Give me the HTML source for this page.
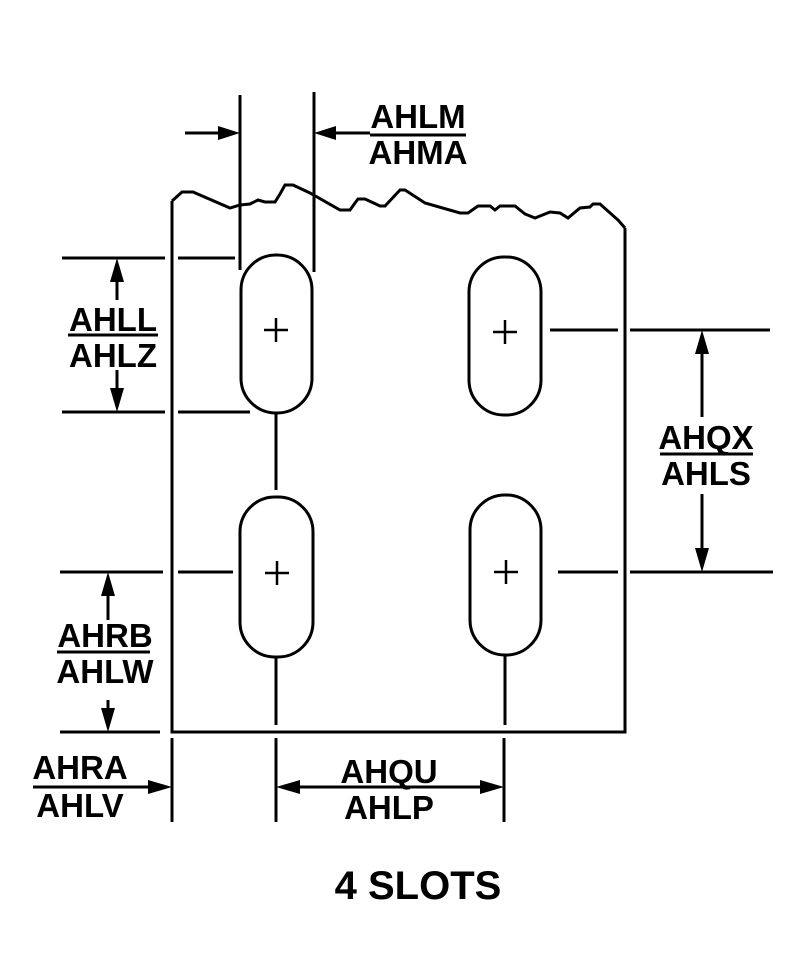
<!DOCTYPE html>
<html><head><meta charset="utf-8"><style>html,body{margin:0;padding:0;background:#fff}svg{display:block}</style></head>
<body>
<svg width="812" height="968" viewBox="0 0 812 968" xmlns="http://www.w3.org/2000/svg">
<g fill="none" stroke="#000" stroke-width="3">
<polyline points="172,201 182,192 193,192 230,208 240,205 250,204 258,200 265,202 275,202 280,194 285,185 293,185 310,193 340,210 350,210 355,203 358,199 365,199 380,206 385,206 400,190 405,190 425,203 460,213 468,213 478,206 490,206 495,210 500,206 515,206 525,214 535,218 550,212 560,213 568,218 580,208 590,207 593,204 600,204 618,220 625,228"/>
<polyline points="172,201 172,732 625,732 625,228"/>
<rect x="241" y="255" width="71" height="158" rx="35" ry="35"/>
<rect x="469" y="257" width="72" height="158" rx="35" ry="35"/>
<rect x="240" y="497" width="73" height="160" rx="35" ry="35"/>
<rect x="470" y="495" width="71" height="160" rx="35" ry="35"/>
</g>
<g stroke="#000" stroke-width="2.5">
<path d="M264,330H288M276,318V342M493,332H517M505,320V344M265,573H289M277,561V585M494,572H518M506,560V584"/>
</g>
<g stroke="#000" stroke-width="3" fill="none">
<path d="M240,95V270M314,92V272"/>
<path d="M185,133H222M370,133H332"/>
<path d="M62,258H165M178,258H235M62,412H165M178,412H250"/>
<path d="M117,276V300M117,370V395"/>
<path d="M60,572H163M178,572H233M60,732H160"/>
<path d="M108,590V620M108,700V714"/>
<path d="M33,787H155"/>
<path d="M172,738V822M276,738V822M504,738V822M276,413V490M276,657V725M505,655V725"/>
<path d="M294,787H486"/>
<path d="M550,330H618M630,330H770M558,572H618M630,572H773"/>
<path d="M702,348V417M702,494V554"/>
<path d="M370,135H466M68,335H158M57,652H150M660,454H753"/>
</g>
<g fill="#000">
<polygon points="240,133 218,126 218,140"/>
<polygon points="314,133 336,126 336,140"/>
<polygon points="117,258 110,282 124,282"/>
<polygon points="117,412 110,388 124,388"/>
<polygon points="108,572 101,596 115,596"/>
<polygon points="108,732 101,708 115,708"/>
<polygon points="172,787 148,780 148,794"/>
<polygon points="276,787 300,780 300,794"/>
<polygon points="504,787 480,780 480,794"/>
<polygon points="702,330 695,354 709,354"/>
<polygon points="702,572 695,548 709,548"/>
</g>
<g font-family="'Liberation Sans',sans-serif" font-weight="bold" font-size="33" text-anchor="middle" fill="#000">
<text x="418" y="128">AHLM</text>
<text x="418" y="164">AHMA</text>
<text x="113" y="331">AHLL</text>
<text x="113" y="367">AHLZ</text>
<text x="105" y="647">AHRB</text>
<text x="105" y="683">AHLW</text>
<text x="80" y="779">AHRA</text>
<text x="80" y="817">AHLV</text>
<text x="389" y="783">AHQU</text>
<text x="389" y="819">AHLP</text>
<text x="706" y="449">AHQX</text>
<text x="706" y="485">AHLS</text>
<text x="418" y="899" font-size="40">4 SLOTS</text>
</g>
</svg>
</body></html>
